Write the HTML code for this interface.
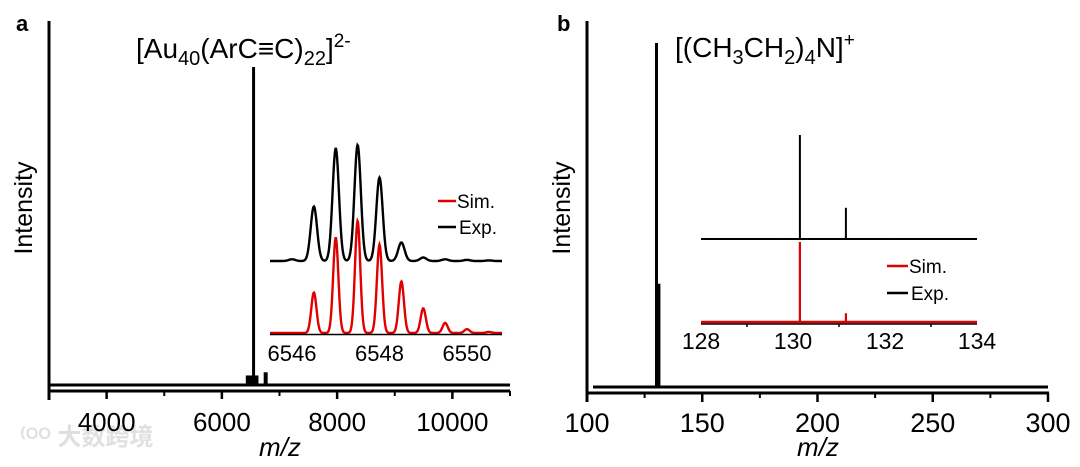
<!DOCTYPE html>
<html><head><meta charset="utf-8"><style>
html,body{margin:0;padding:0;background:#fff;}
svg{display:block;font-family:"Liberation Sans","Noto Sans CJK SC",sans-serif;}
</style></head><body>
<svg id="fig" width="1080" height="467" viewBox="0 0 1080 467" xmlns="http://www.w3.org/2000/svg">
<text x="20" y="445" font-size="24" fill="#e0e0e0" font-weight="bold">⁽ᴼᴼ 大数跨境</text>
<g id="pa"></g>
<g id="pb"></g>
</svg>
<script>
// ---- Panel a data ----
const aTicks = [4000, 6000, 8000, 10000];
const aMinor = [5000, 7000, 9000, 11000];
const aPeaksMz = [6450, 6500, 6550, 6600, 6760];
const aPeaksInt = [3, 3, 100, 3, 4];
const aInsetTicks = [6546, 6548, 6550];
const aInsetMz = [6546.5, 6547, 6547.5, 6548, 6548.5, 6549, 6549.5, 6550, 6550.5];
const aExpInt = [47, 97, 100, 72, 16, 3, 1.5, 1, 0.5];
const aSimInt = [36, 85, 100, 79, 46, 22, 9, 3.5, 1];
// ---- Panel b data ----
const bTicks = [100, 150, 200, 250, 300];
const bMinor = [125, 175, 225, 275];
const bPeaksMz = [130.15, 131.2];
const bPeaksInt = [100, 30];
const bInsetTicks = [128, 130, 132, 134];
const bInsetMinor = [129, 131, 133];
const bInsetMz = [129.7, 130.15, 131.15, 132.15];
const bExpInt = [1, 100, 30, 1];
const bSimInt = [0, 100, 11, 0];

const NS = "http://www.w3.org/2000/svg";
function mk(parent, tag, attrs, text) {
  const e = document.createElementNS(NS, tag);
  for (const k in attrs) e.setAttribute(k, attrs[k]);
  if (text !== undefined) e.textContent = text;
  parent.appendChild(e);
  return e;
}
function lin(d0, d1, r0, r1) { return v => r0 + (v - d0) / (d1 - d0) * (r1 - r0); }

function gaussPath(xs, xScale, base, hScale, mzs, ints, sigma, x0, x1) {
  let d = "";
  for (let px = x0; px <= x1; px += 0.5) {
    let y = 0;
    for (let i = 0; i < mzs.length; i++) {
      const c = xScale(mzs[i]);
      y += ints[i] * Math.exp(-((px - c) ** 2) / (2 * sigma * sigma));
    }
    d += (d ? "L" : "M") + px.toFixed(1) + "," + (base - hScale * y).toFixed(1);
  }
  return d;
}

// ---------- PANEL A ----------
const pa = document.getElementById('pa');
const ax = lin(3000, 11000, 49, 510);
const aBase = 385, aAxisY = 391;
const ay = v => aBase - v * 3.18;
let e;
e = mk(pa, 'text', {x: 16, y: 31, 'font-size': 22, 'font-weight': 'bold'}, 'a');


e = mk(pa, 'line', {x1: 49, y1: 21, x2: 49, y2: 400, stroke: '#000', 'stroke-width': 3});


e = mk(pa, 'line', {x1: 47.5, y1: aAxisY, x2: 510, y2: aAxisY, stroke: '#000', 'stroke-width': 3});


aTicks.forEach(t => {
  e = mk(pa, 'line', {x1: ax(t), y1: aAxisY, x2: ax(t), y2: aAxisY + 8, stroke: '#000', 'stroke-width': 2.5});
  
  
  e = mk(pa, 'text', {x: ax(t), y: 431, 'font-size': 26, 'text-anchor': 'middle'}, String(t));
  
  
});
aMinor.forEach(t => {
  e = mk(pa, 'line', {x1: ax(t), y1: aAxisY, x2: ax(t), y2: aAxisY + 5, stroke: '#000', 'stroke-width': 2});
  
  
});
e = mk(pa, 'text', {x: 280, y: 456, 'font-size': 26, 'text-anchor': 'middle', 'font-style': 'italic'}, 'm/z');


e = mk(pa, 'text', {x: 32, y: 208, 'font-size': 25, 'text-anchor': 'middle', transform: 'rotate(-90 32 208)'}, 'Intensity');


e = mk(pa, 'line', {x1: 49, y1: aBase, x2: 510, y2: aBase, stroke: '#000', 'stroke-width': 3});


aPeaksMz.forEach((m, i) => {
  e = mk(pa, 'line', {x1: ax(m), y1: aBase, x2: ax(m), y2: ay(aPeaksInt[i]), stroke: '#000', 'stroke-width': i === 2 ? 3 : 4});
  
  
});
e = mk(pa, 'text', {x: 136, y: 58, 'font-size': 28});


e.innerHTML = '[Au<tspan font-size="20" dy="7">40</tspan><tspan dy="-7">(ArC≡C)</tspan><tspan font-size="20" dy="7">22</tspan><tspan dy="-7">]</tspan><tspan font-size="19" dy="-11">2-</tspan>';
// inset a
const ix = lin(6546, 6550, 292, 467);
const iExpBase = 261, iSimBase = 333;
e = mk(pa, 'path', {d: gaussPath(0, ix, iSimBase, 1.12, aInsetMz, aSimInt, 2.6, 270, 502), fill: 'none', stroke: '#e00000', 'stroke-width': 2.4});


e = mk(pa, 'path', {d: gaussPath(0, ix, iExpBase, 1.16, aInsetMz.concat([6546]), aExpInt.concat([1.5]), 3.2, 270, 502), fill: 'none', stroke: '#000', 'stroke-width': 2.4});


e = mk(pa, 'line', {x1: 270, y1: iSimBase + 1.5, x2: 502, y2: iSimBase + 1.5, stroke: '#000', 'stroke-width': 1.5});


aInsetTicks.forEach(t => {
  e = mk(pa, 'text', {x: ix(t), y: 361, 'font-size': 22, 'text-anchor': 'middle'}, String(t));
  
  
});
e = mk(pa, 'line', {x1: 438, y1: 201, x2: 456, y2: 201, stroke: '#e00000', 'stroke-width': 2.5});


e = mk(pa, 'text', {x: 457, y: 208, 'font-size': 19}, 'Sim.');


e = mk(pa, 'line', {x1: 438, y1: 227, x2: 456, y2: 227, stroke: '#000', 'stroke-width': 2.5});


e = mk(pa, 'text', {x: 459, y: 234, 'font-size': 19}, 'Exp.');



// ---------- PANEL B ----------
const pb = document.getElementById('pb');
const bx = lin(100, 300, 587, 1048);
const bBase = 387, bAxisY = 393;
const by = v => bBase - v * 3.44;
e = mk(pb, 'text', {x: 557, y: 31, 'font-size': 22, 'font-weight': 'bold'}, 'b');


e = mk(pb, 'line', {x1: 587, y1: 21, x2: 587, y2: 402, stroke: '#000', 'stroke-width': 3});


e = mk(pb, 'line', {x1: 585.5, y1: bAxisY, x2: 1049, y2: bAxisY, stroke: '#000', 'stroke-width': 3});


bTicks.forEach(t => {
  e = mk(pb, 'line', {x1: bx(t), y1: bAxisY, x2: bx(t), y2: bAxisY + 9, stroke: '#000', 'stroke-width': 2.5});
  
  
  e = mk(pb, 'text', {x: bx(t), y: 432, 'font-size': 27, 'text-anchor': 'middle'}, String(t));
  
  
});
bMinor.forEach(t => {
  e = mk(pb, 'line', {x1: bx(t), y1: bAxisY, x2: bx(t), y2: bAxisY + 5, stroke: '#000', 'stroke-width': 2});
  
  
});
e = mk(pb, 'text', {x: 818, y: 456, 'font-size': 26, 'text-anchor': 'middle', 'font-style': 'italic'}, 'm/z');


e = mk(pb, 'text', {x: 570, y: 208, 'font-size': 25, 'text-anchor': 'middle', transform: 'rotate(-90 570 208)'}, 'Intensity');


e = mk(pb, 'line', {x1: 593, y1: bBase, x2: 1048, y2: bBase, stroke: '#000', 'stroke-width': 3});


bPeaksMz.forEach((m, i) => {
  e = mk(pb, 'line', {x1: bx(m), y1: bBase, x2: bx(m), y2: by(bPeaksInt[i]), stroke: '#000', 'stroke-width': 3});
  
  
});
e = mk(pb, 'text', {x: 675, y: 57, 'font-size': 28});


e.innerHTML = '[(CH<tspan font-size="20" dy="7">3</tspan><tspan dy="-7">CH</tspan><tspan font-size="20" dy="7">2</tspan><tspan dy="-7">)</tspan><tspan font-size="20" dy="7">4</tspan><tspan dy="-7">N]</tspan><tspan font-size="19" dy="-11">+</tspan>';
// inset b
const jx = lin(128, 134, 701, 977);
const jExpBase = 239, jSimBase = 322;
e = mk(pb, 'line', {x1: 701, y1: jSimBase, x2: 977, y2: jSimBase, stroke: '#e00000', 'stroke-width': 2.5});


bInsetMz.forEach((m, i) => {
  if (bSimInt[i] > 0) {
    e = mk(pb, 'line', {x1: jx(m), y1: jSimBase, x2: jx(m), y2: jSimBase - bSimInt[i] * 0.8, stroke: '#e00000', 'stroke-width': 2.2});
    
    
  }
});
e = mk(pb, 'line', {x1: 701, y1: jSimBase + 2, x2: 977, y2: jSimBase + 2, stroke: '#000', 'stroke-width': 1.5});


bInsetMinor.forEach(t => {
  e = mk(pb, 'line', {x1: jx(t), y1: jSimBase + 2, x2: jx(t), y2: jSimBase + 5, stroke: '#000', 'stroke-width': 1.5});
  
  
});
e = mk(pb, 'line', {x1: 701, y1: jExpBase, x2: 977, y2: jExpBase, stroke: '#000', 'stroke-width': 2});


bInsetMz.forEach((m, i) => {
  e = mk(pb, 'line', {x1: jx(m), y1: jExpBase, x2: jx(m), y2: jExpBase - bExpInt[i] * 1.04, stroke: '#000', 'stroke-width': 2});
  
  
});
bInsetTicks.forEach(t => {
  e = mk(pb, 'text', {x: jx(t), y: 349, 'font-size': 23, 'text-anchor': 'middle'}, String(t));
  
  
});
e = mk(pb, 'line', {x1: 887, y1: 266, x2: 908, y2: 266, stroke: '#e00000', 'stroke-width': 2.5});


e = mk(pb, 'text', {x: 909, y: 273, 'font-size': 19}, 'Sim.');


e = mk(pb, 'line', {x1: 887, y1: 293, x2: 908, y2: 293, stroke: '#000', 'stroke-width': 2.5});


e = mk(pb, 'text', {x: 911, y: 300, 'font-size': 19}, 'Exp.');


</script>
</body></html>
